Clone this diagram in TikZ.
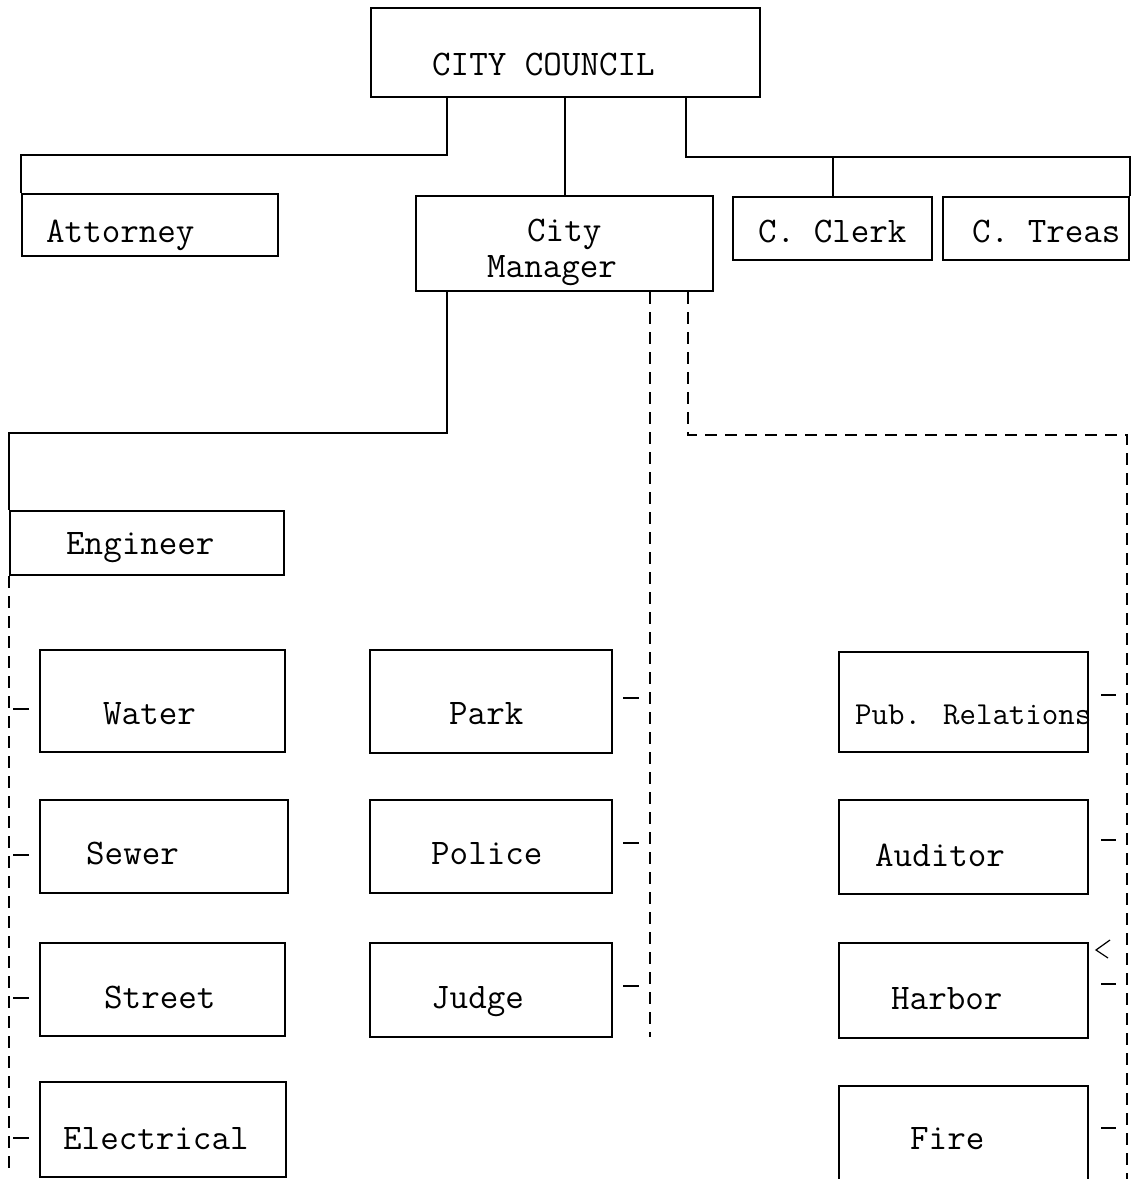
\documentclass[tikz,border=0pt]{standalone}
\usepackage{fontspec}
\tikzset{
  unit/.style={draw, line width=2pt, inner sep=0pt},
  lbl/.style={anchor=base west, inner sep=0pt, font=\ttfamily\fontsize{36}{40}\selectfont\addfontfeature{FakeBold=0.6}},
  link/.style={line width=2pt},
  dashlink/.style={line width=2pt, dash pattern=on 12pt off 8pt},
  tick/.style={line width=2pt}
}
\begin{document}
\begin{tikzpicture}[x=1pt,y=-1pt]
\useasboundingbox (0,0) rectangle (1131,1179);
\node[unit, minimum width=389, minimum height=89] (council) at (565.5,52.5) {};
\node[unit, minimum width=256, minimum height=62] (atty) at (150,225) {};
\node[unit, minimum width=297, minimum height=95] (mgr) at (564.5,243.5) {};
\node[unit, minimum width=199, minimum height=63] (clerk) at (832.5,228.5) {};
\node[unit, minimum width=186, minimum height=63] (treas) at (1036,228.5) {};
\node[unit, minimum width=274, minimum height=64] (eng) at (147,543) {};
\node[unit, minimum width=245, minimum height=102] (water) at (162.5,701) {};
\node[unit, minimum width=248, minimum height=93] (sewer) at (164,846.5) {};
\node[unit, minimum width=245, minimum height=93] (street) at (162.5,989.5) {};
\node[unit, minimum width=246, minimum height=95] (elec) at (163,1129.5) {};
\node[unit, minimum width=242, minimum height=103] (park) at (491,701.5) {};
\node[unit, minimum width=242, minimum height=93] (police) at (491,846.5) {};
\node[unit, minimum width=242, minimum height=94] (judge) at (491,990) {};
\node[unit, minimum width=249, minimum height=100] (pubrel) at (963.5,702) {};
\node[unit, minimum width=249, minimum height=94] (auditor) at (963.5,847) {};
\node[unit, minimum width=249, minimum height=95] (harbor) at (963.5,990.5) {};
\node[unit, minimum width=249, minimum height=98] (fire) at (963.5,1135) {};
\node[lbl] (council-l) at (432,75) {CITY COUNCIL};
\node[lbl] (atty-l) at (46,242) {Attorney};
\node[lbl] (mgr-l1) at (527,241) {City};
\node[lbl] (mgr-l2) at (487,277) {Manager};
\node[lbl] (clerk-l) at (758,242) {C. Clerk};
\node[lbl] (treas-l) at (972,242) {C. Treas};
\node[lbl] (eng-l) at (66,554) {Engineer};
\node[lbl] (water-l) at (103,724) {Water};
\node[lbl] (sewer-l) at (86,864) {Sewer};
\node[lbl] (street-l) at (104,1008) {Street};
\node[lbl] (elec-l) at (63,1149) {Electrical};
\node[lbl] (park-l) at (449,724) {Park};
\node[lbl] (police-l) at (431,864) {Police};
\node[lbl] (judge-l) at (431,1008) {Judge};
\node[lbl, font=\ttfamily\fontsize{32}{36}\selectfont\addfontfeature{FakeBold=0.6}] (pubrel-l) at (855,724) {Pub. Relations};
\node[lbl] (auditor-l) at (875,866) {Auditor};
\node[lbl] (harbor-l) at (891,1009) {Harbor};
\node[lbl] (fire-l) at (910,1149) {Fire};
\coordinate (a1) at (447,155);
\coordinate (a2) at (686,157);
\coordinate (b1) at (447,433);
\coordinate (d1) at (650,1037);
\coordinate (d2) at (688,435);
\coordinate (d3) at (1127,1179);
\coordinate (d4) at (9,1170);
\draw[link] (council.south -| a1) -- (a1) -| (atty.north west);
\draw[link] (council.south -| mgr.north) -- (mgr.north);
\draw[link] (council.south -| a2) -- (a2) -| (treas.north east);
\draw[link] (a2 -| clerk.north) -- (clerk.north);
\draw[link] (mgr.south -| b1) -- (b1) -| (eng.north west);
\draw[dashlink] (mgr.south -| d1) -- (d1);
\draw[dashlink] (mgr.south -| d2) -- (d2) -| (d3);
\draw[dashlink] (eng.south west) -- (d4);
\foreach \b in {water,sewer,street,elec}
  \draw[tick] ([xshift=-26pt,yshift=-8pt]\b.west) -- ++(16,0);
\foreach \b in {park,police,judge}
  \draw[tick] ([xshift=10pt,yshift=4pt]\b.east) -- ++(16,0);
\foreach \b in {pubrel,auditor,harbor,fire}
  \draw[tick] ([xshift=12pt,yshift=7pt]\b.east) -- ++(15,0);
\draw[line width=1.2pt] (1110,940) -- (1096,950) -- (1108,958);
\end{tikzpicture}
\end{document}
